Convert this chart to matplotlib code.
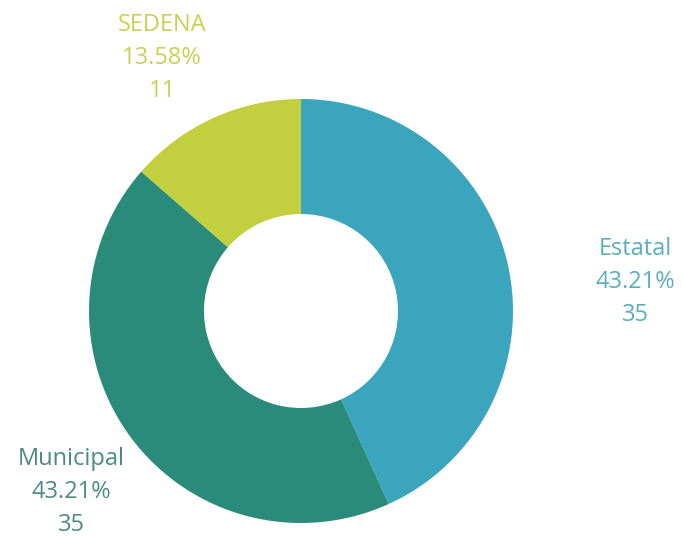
import matplotlib
matplotlib.use("Agg")
import matplotlib.pyplot as plt

categorias = ["Estatal", "Municipal", "SEDENA"]
valores = [35, 35, 11]
colores = ["#3ba5be", "#2a8b7b", "#c2cf3e"]
colores_texto = ["#5aaebf", "#4d8a80", "#c6d253"]

total = sum(valores)
porcentajes = [v / total * 100 for v in valores]

fig = plt.figure(figsize=(6.82, 5.36), dpi=100)
ax = fig.add_axes([0, 0, 1, 1])

ax.pie(valores, colors=colores, startangle=90, counterclock=False,
       center=(301, 225), radius=212,
       wedgeprops=dict(width=115, edgecolor="none"))

# pie() cambia los limites, asi que los fijo despues
ax.set_xlim(0, 682)
ax.set_ylim(0, 536)
ax.set_aspect("equal")
ax.axis("off")

# posiciones de las etiquetas (pixeles)
pos_etiquetas = [(635, 254), (71, 44), (162, 478)]
for cat, p, v, c, (x, y) in zip(categorias, porcentajes, valores, colores_texto, pos_etiquetas):
    ax.text(x, y, f"{cat}\n{p:.2f}%\n{v}", color=c, ha="center", va="center",
            fontsize=17, linespacing=1.5, family="Open Sans")

fig.savefig("out.png", dpi=100)
